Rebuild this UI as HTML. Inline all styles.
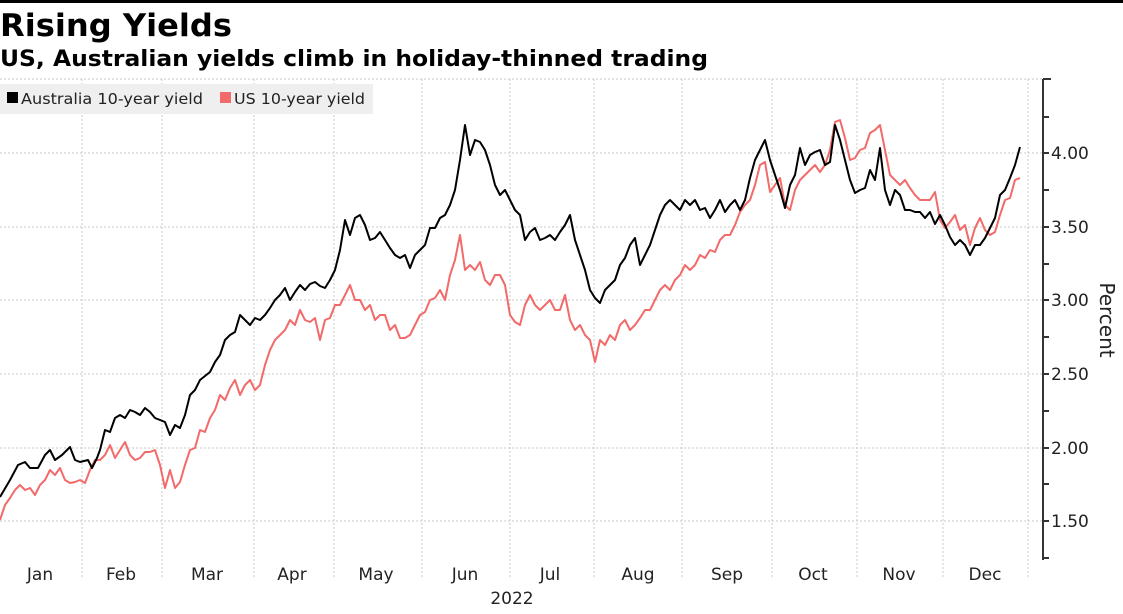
<!DOCTYPE html>
<html><head><meta charset="utf-8"><style>
body{margin:0;width:1123px;height:610px;background:#fff;overflow:hidden;font-family:"DejaVu Sans","Liberation Sans",sans-serif;}
</style></head><body>
<svg width="1123" height="610" xmlns="http://www.w3.org/2000/svg" font-family="DejaVu Sans, Liberation Sans, sans-serif">
<rect x="0" y="0" width="1123" height="3" fill="#000"/>
<text x="0" y="36" font-size="31" font-weight="bold" fill="#000" textLength="232" lengthAdjust="spacingAndGlyphs">Rising Yields</text>
<text x="0" y="66" font-size="22" font-weight="bold" fill="#000" textLength="708" lengthAdjust="spacingAndGlyphs">US, Australian yields climb in holiday-thinned trading</text>
<g stroke="#c8c8c8" stroke-width="1" stroke-dasharray="2,2">
<line x1="0" y1="79" x2="1043" y2="79"/>
<line x1="0" y1="153" x2="1043" y2="153"/>
<line x1="0" y1="227" x2="1043" y2="227"/>
<line x1="0" y1="300" x2="1043" y2="300"/>
<line x1="0" y1="374" x2="1043" y2="374"/>
<line x1="0" y1="448" x2="1043" y2="448"/>
<line x1="0" y1="521" x2="1043" y2="521"/>
<line x1="82" y1="79" x2="82" y2="578"/>
<line x1="162" y1="79" x2="162" y2="578"/>
<line x1="254" y1="79" x2="254" y2="578"/>
<line x1="334" y1="79" x2="334" y2="578"/>
<line x1="422" y1="79" x2="422" y2="578"/>
<line x1="510" y1="79" x2="510" y2="578"/>
<line x1="594" y1="79" x2="594" y2="578"/>
<line x1="682" y1="79" x2="682" y2="578"/>
<line x1="772" y1="79" x2="772" y2="578"/>
<line x1="857" y1="79" x2="857" y2="578"/>
<line x1="943" y1="79" x2="943" y2="578"/>
<line x1="1028" y1="79" x2="1028" y2="578"/>
</g>
<rect x="0" y="84" width="373" height="30" fill="#efefef"/>
<rect x="7" y="92" width="11" height="11" fill="#000"/>
<text x="21" y="104" font-size="15" fill="#222" textLength="182" lengthAdjust="spacingAndGlyphs">Australia 10-year yield</text>
<rect x="220" y="92" width="11" height="11" fill="#f26a6a"/>
<text x="234" y="104" font-size="15" fill="#222" textLength="131" lengthAdjust="spacingAndGlyphs">US 10-year yield</text>
<g stroke="#333" stroke-width="2">
<line x1="1043" y1="79" x2="1043" y2="560"/>
<line x1="1043" y1="79" x2="1051" y2="79"/>
<line x1="1043" y1="117" x2="1049" y2="117"/>
<line x1="1043" y1="153" x2="1049" y2="153"/>
<line x1="1043" y1="190" x2="1049" y2="190"/>
<line x1="1043" y1="227" x2="1049" y2="227"/>
<line x1="1043" y1="264" x2="1049" y2="264"/>
<line x1="1043" y1="300" x2="1049" y2="300"/>
<line x1="1043" y1="337" x2="1049" y2="337"/>
<line x1="1043" y1="374" x2="1049" y2="374"/>
<line x1="1043" y1="411" x2="1049" y2="411"/>
<line x1="1043" y1="448" x2="1049" y2="448"/>
<line x1="1043" y1="484" x2="1049" y2="484"/>
<line x1="1043" y1="521" x2="1049" y2="521"/>
<line x1="1043" y1="558" x2="1049" y2="558"/>
</g>
<g font-size="17" fill="#222">
<text x="1051" y="159">4.00</text>
<text x="1051" y="233">3.50</text>
<text x="1051" y="306">3.00</text>
<text x="1051" y="380">2.50</text>
<text x="1051" y="454">2.00</text>
<text x="1051" y="527">1.50</text>
</g>
<text transform="translate(1100,320) rotate(90)" font-size="20" fill="#222" text-anchor="middle">Percent</text>
<g font-size="17" fill="#222" text-anchor="middle">
<text x="40" y="580">Jan</text><text x="121" y="580">Feb</text><text x="207" y="580">Mar</text>
<text x="292" y="580">Apr</text><text x="376" y="580">May</text><text x="465" y="580">Jun</text>
<text x="550" y="580">Jul</text><text x="638" y="580">Aug</text><text x="727" y="580">Sep</text>
<text x="813" y="580">Oct</text><text x="899" y="580">Nov</text><text x="985" y="580">Dec</text>
<text x="512" y="604">2022</text>
</g>
<polyline fill="none" stroke="#f26a6a" stroke-width="2" stroke-linejoin="round" points="0,520 5,505 10,498 15,490 20,485 25,490 30,488 35,495 40,485 45,480 50,470 55,475 60,468 65,480 70,483 75,482 80,480 85,483 90,470 95,460 100,460 105,455 110,445 115,458 120,450 125,442 130,455 135,460 140,458 145,452 150,452 155,450 160,465 165,488 170,470 175,488 180,482 185,465 190,450 195,448 200,430 205,432 210,418 215,410 220,395 225,400 230,388 235,380 240,395 245,385 250,380 255,390 260,385 265,365 270,350 275,340 280,335 285,330 290,320 295,325 300,310 305,320 310,322 315,318 320,340 325,320 330,318 335,305 340,305 345,295 350,285 355,300 360,300 365,310 370,305 375,320 380,315 385,315 390,330 395,325 400,338 405,338 410,335 415,325 420,315 425,312 430,300 435,298 440,290 445,300 450,275 455,260 460,235 465,270 470,265 475,270 480,262 485,280 490,285 495,275 500,275 505,285 510,315 515,322 520,325 525,305 530,295 535,305 540,310 545,305 550,300 555,310 560,310 565,295 570,320 575,330 580,325 585,335 590,340 595,362 600,340 605,345 610,335 615,340 620,325 625,320 630,330 635,325 640,318 645,310 650,310 655,300 660,290 665,285 670,290 675,280 680,275 685,265 690,270 695,265 700,255 705,258 710,250 715,252 720,240 725,235 730,235 735,225 740,212 745,205 750,200 755,185 760,165 765,162 770,192 775,185 780,178 785,205 790,210 795,190 800,180 805,175 810,170 815,165 820,172 825,165 830,150 835,122 840,120 845,138 850,160 855,158 860,150 865,148 870,133 875,130 880,125 885,150 890,175 895,180 900,185 905,180 910,188 915,195 920,200 925,200 930,200 935,192 940,220 945,228 950,222 955,215 960,230 965,225 970,245 975,228 980,218 985,230 990,235 995,232 1000,215 1005,200 1010,198 1015,180 1020,178"/>
<polyline fill="none" stroke="#000" stroke-width="2" stroke-linejoin="round" points="0,497 10,480 18,465 25,462 30,468 38,468 45,455 50,450 55,460 62,455 70,447 75,460 80,462 88,460 92,468 97,458 100,450 105,430 110,432 115,418 120,415 125,418 130,410 135,412 140,415 145,408 150,412 155,418 160,420 165,422 170,435 175,425 180,428 185,415 190,395 195,390 200,380 210,372 215,362 220,355 225,340 230,335 235,332 240,315 245,320 250,325 255,318 260,320 265,315 270,308 275,300 280,295 285,288 290,300 295,292 300,285 305,290 310,284 315,282 320,286 325,288 330,280 335,270 340,250 345,220 350,235 355,218 360,215 365,225 370,240 375,238 380,232 385,240 390,248 395,255 400,258 405,255 410,268 415,255 420,250 425,245 430,228 435,228 440,218 445,215 450,205 455,190 460,160 465,125 470,155 475,140 480,142 485,150 490,165 495,185 500,195 505,190 510,200 515,210 520,215 525,240 530,232 535,228 540,240 545,238 550,235 555,240 560,232 565,225 570,215 575,240 580,255 585,270 590,290 595,298 600,303 605,290 610,285 615,280 620,265 625,258 630,245 635,238 640,265 645,255 650,245 655,230 660,215 665,205 670,200 675,205 680,210 685,200 690,205 695,200 700,210 705,208 710,218 715,210 720,200 725,212 730,205 735,200 740,210 745,200 750,178 755,160 760,150 765,140 770,160 775,175 780,190 785,208 790,185 795,175 800,148 805,165 810,155 815,152 820,150 825,165 830,162 835,125 840,140 845,160 850,180 855,193 860,190 865,188 870,170 875,180 880,148 885,190 890,205 895,190 900,195 905,210 910,210 915,212 920,212 925,218 930,212 935,224 940,215 945,225 950,237 955,245 960,240 965,245 970,255 975,245 980,245 985,238 990,228 995,218 1000,195 1005,190 1010,178 1015,165 1020,147"/>
</svg>
</body></html>
